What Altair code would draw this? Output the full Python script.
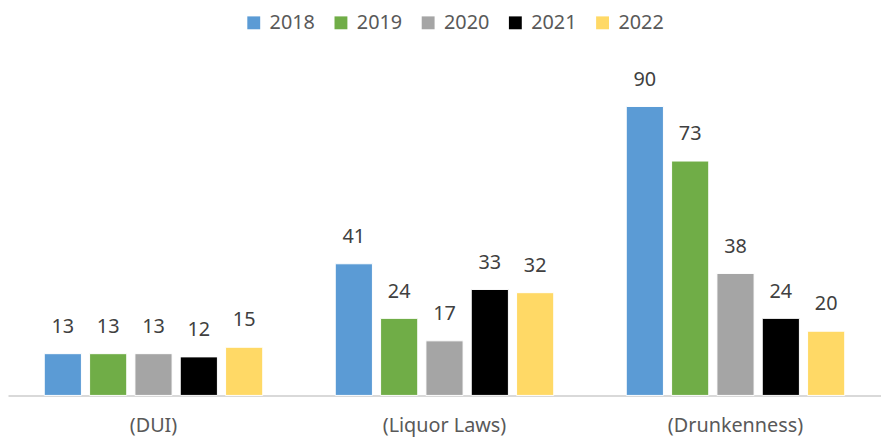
import altair as alt
import pandas as pd

categories = ["(DUI)", "(Liquor Laws)", "(Drunkenness)"]
years = ["2018", "2019", "2020", "2021", "2022"]
values = {
    "2018": [13, 41, 90],
    "2019": [13, 24, 73],
    "2020": [13, 17, 38],
    "2021": [12, 33, 24],
    "2022": [15, 32, 20],
}
colors = ["#5B9BD5", "#70AD47", "#A5A5A5", "#000000", "#FFD966"]

rows = []
for y in years:
    for c, v in zip(categories, values[y]):
        rows.append({"category": c, "year": y, "value": v})
df = pd.DataFrame(rows)

FONT = "Noto Sans"

x = alt.X("category:N", sort=categories, title=None,
          scale=alt.Scale(paddingInner=0, paddingOuter=0),
          axis=alt.Axis(labelAngle=0, labelFontSize=20, labelColor="#595959",
                        labelFont=FONT, ticks=False, labelPadding=20,
                        domainColor="#D9D9D9", domainWidth=2))
xo = alt.XOffset("year:N", sort=years,
                 scale=alt.Scale(paddingInner=0.18, paddingOuter=0.8))
y = alt.Y("value:Q", scale=alt.Scale(domain=[0, 100]), axis=None)

bars = alt.Chart(df).mark_bar(stroke="white", strokeWidth=1).encode(
    x=x, xOffset=xo, y=y,
    color=alt.Color("year:N", sort=years,
                    scale=alt.Scale(domain=years, range=colors),
                    legend=alt.Legend(orient="none", direction="horizontal",
                                      legendX=238, legendY=-62, title=None,
                                      symbolType="square", symbolSize=169,
                                      symbolStrokeWidth=0, labelFontSize=20,
                                      labelFont=FONT, labelColor="#595959",
                                      labelOffset=6, columnPadding=16)),
)

labels = alt.Chart(df).mark_text(baseline="bottom", dy=-17, fontSize=20,
                                 font=FONT, color="#404040").encode(
    x=x, xOffset=xo, y=y, text="value:Q")

chart = (bars + labels).properties(
    width=881, height=324,
    padding={"left": 0, "right": 0, "top": 3, "bottom": 0},
).configure_view(stroke=None).configure_axis(grid=False)

chart.save("out.html", embed_options={"renderer": "svg", "actions": False})
